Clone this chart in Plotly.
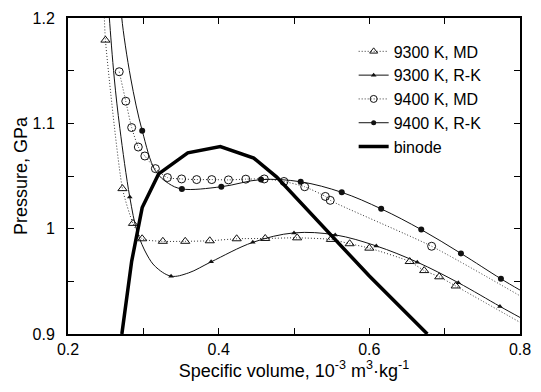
import plotly.graph_objects as go

# ---------------- data ----------------
# 9300 K, MD (open triangles, dotted line)
md9300_v = [0.2476, 0.2497, 0.2723, 0.2863, 0.2984, 0.3259, 0.3556, 0.3882, 0.4239, 0.4618,
            0.5042, 0.5490, 0.5739, 0.6000, 0.6536, 0.6728, 0.6928, 0.7146, 0.8200]
md9300_p = [1.215, 1.179, 1.038, 1.005, 0.9904, 0.988, 0.988, 0.9885, 0.9904, 0.9907,
            0.9913, 0.9898, 0.9857, 0.9815, 0.9688, 0.9602, 0.9543, 0.9456, 0.903]

# 9300 K, R-K curve (solid line) and its marked points
rk9300_curve_v = [0.2535, 0.2549, 0.2614, 0.2689, 0.2820, 0.2919, 0.3050, 0.3160, 0.3368, 0.3600,
                  0.3900, 0.4453, 0.5000, 0.5547, 0.6092, 0.6636, 0.7181, 0.7734, 0.8000]
rk9300_curve_p = [1.215, 1.200, 1.143, 1.095, 1.030, 0.997, 0.975, 0.964, 0.9549, 0.958,
                  0.9685, 0.987, 0.996, 0.9941, 0.9836, 0.9682, 0.9487, 0.9262, 0.9157]
rk9300_v = [0.2820, 0.3368, 0.3900, 0.4453, 0.5000, 0.5547, 0.6092, 0.6636, 0.7181, 0.7734]
rk9300_p = [1.030, 0.9549, 0.9685, 0.987, 0.996, 0.9941, 0.9836, 0.9682, 0.9487, 0.9262]

# 9400 K, MD (open circles, dotted line)
md9400_v = [0.2680, 0.2767, 0.2845, 0.2933, 0.3020, 0.3160, 0.3320, 0.3508, 0.3708, 0.3908,
            0.4130, 0.4360, 0.4605, 0.4867, 0.5142, 0.5416, 0.5481, 0.6827, 0.8200]
md9400_p = [1.149, 1.121, 1.096, 1.0775, 1.069, 1.057, 1.0485, 1.0472, 1.0466, 1.0466,
            1.0463, 1.047, 1.0472, 1.0448, 1.0398, 1.0306, 1.0269, 0.9833, 0.928]

# 9400 K, R-K curve (solid line) and its marked points
rk9400_curve_v = [0.2705, 0.2714, 0.2832, 0.2985, 0.3160, 0.3333, 0.3512, 0.4035, 0.4562, 0.5089,
                  0.5634, 0.6157, 0.6689, 0.7216, 0.7747, 0.8000]
rk9400_curve_p = [1.215, 1.200, 1.143, 1.093, 1.055, 1.043, 1.0377, 1.0398, 1.0466, 1.0445,
                  1.0345, 1.0188, 0.9991, 0.9765, 0.9524, 0.9417]
rk9400_v = [0.2985, 0.3512, 0.4035, 0.4562, 0.5089, 0.5634, 0.6157, 0.6689, 0.7216, 0.7747]
rk9400_p = [1.093, 1.0377, 1.0398, 1.0466, 1.0445, 1.0345, 1.0188, 0.9991, 0.9765, 0.9524]

# binode
binode_v = [0.2715, 0.2845, 0.2985, 0.3203, 0.3590, 0.4022, 0.4466, 0.4771, 0.6000, 0.6770]
binode_p = [0.900, 0.969, 1.020, 1.052, 1.072, 1.078, 1.067, 1.049, 0.955, 0.900]

x_ticks = [0.2, 0.4, 0.6, 0.8]
x_ticktext = ["0.2", "0.4", "0.6", "0.8"]
y_ticks = [0.9, 1.0, 1.1, 1.2]
y_ticktext = ["0.9", "1", "1.1", "1.2"]

# ---------------- figure ----------------
INK = "#111111"
FONT = "Liberation Sans, Arial, sans-serif"
DOTS = "1px,2px"

fig = go.Figure()

# MD 9300 dotted + open triangles
fig.add_trace(go.Scatter(x=md9300_v, y=md9300_p, mode="lines+markers", showlegend=False,
                         line=dict(color="#333333", width=1, dash=DOTS, shape="spline", smoothing=0.6),
                         marker=dict(symbol="triangle-up-open", size=8, color=INK, line=dict(width=1))))
# RK 9300 solid curve
fig.add_trace(go.Scatter(x=rk9300_curve_v, y=rk9300_curve_p, mode="lines", showlegend=False,
                         line=dict(color=INK, width=1, shape="spline", smoothing=1.0)))
fig.add_trace(go.Scatter(x=rk9300_v, y=rk9300_p, mode="markers", showlegend=False,
                         marker=dict(symbol="triangle-up", size=5, color=INK)))
# MD 9400 dotted + open circles
fig.add_trace(go.Scatter(x=md9400_v, y=md9400_p, mode="lines+markers", showlegend=False,
                         line=dict(color="#333333", width=1, dash=DOTS, shape="spline", smoothing=0.6),
                         marker=dict(symbol="circle-open", size=8, color=INK, line=dict(width=1))))
# RK 9400 solid curve
fig.add_trace(go.Scatter(x=rk9400_curve_v, y=rk9400_curve_p, mode="lines", showlegend=False,
                         line=dict(color=INK, width=1, shape="spline", smoothing=1.0)))
fig.add_trace(go.Scatter(x=rk9400_v, y=rk9400_p, mode="markers", showlegend=False,
                         marker=dict(symbol="circle", size=6, color=INK)))
# binode
fig.add_trace(go.Scatter(x=binode_v, y=binode_p, mode="lines", showlegend=False,
                         line=dict(color="black", width=3.5)))

# legend entries
fig.add_trace(go.Scatter(x=[None], y=[None], mode="lines+markers", name="9300 K, MD",
                         line=dict(color="#333333", width=1, dash=DOTS),
                         marker=dict(symbol="triangle-up-open", size=7, color=INK, line=dict(width=1))))
fig.add_trace(go.Scatter(x=[None], y=[None], mode="lines+markers", name="9300 K, R-K",
                         line=dict(color=INK, width=1),
                         marker=dict(symbol="triangle-up", size=5, color=INK)))
fig.add_trace(go.Scatter(x=[None], y=[None], mode="lines+markers", name="9400 K, MD",
                         line=dict(color="#333333", width=1, dash=DOTS),
                         marker=dict(symbol="circle-open", size=7, color=INK, line=dict(width=1))))
fig.add_trace(go.Scatter(x=[None], y=[None], mode="lines+markers", name="9400 K, R-K",
                         line=dict(color=INK, width=1),
                         marker=dict(symbol="circle", size=5, color=INK)))
fig.add_trace(go.Scatter(x=[None], y=[None], mode="lines", name="binode",
                         line=dict(color="black", width=3.5)))

axis_common = dict(showgrid=False, zeroline=False, showline=True, linecolor="black", linewidth=2,
                   mirror="ticks", ticks="inside", ticklen=6, tickwidth=1, tickcolor="black",
                   ticklabeloverflow="allow",
                   tickfont=dict(family=FONT, size=16, color="black"))

fig.update_xaxes(range=[0.2, 0.8], tickvals=x_ticks, ticktext=x_ticktext,
                 minor=dict(ticks="inside", dtick=0.1, tick0=0.2, ticklen=6, tickwidth=1,
                            tickcolor="black", showgrid=False),
                 title=dict(text="Specific volume, 10<sup>-3</sup> m<sup>3</sup>·kg<sup>-1</sup>",
                            font=dict(family=FONT, size=18, color="black"), standoff=2),
                 **axis_common)
fig.update_yaxes(range=[0.9, 1.2], tickvals=y_ticks, ticktext=y_ticktext,
                 minor=dict(ticks="inside", dtick=0.05, tick0=0.9, ticklen=6, tickwidth=1,
                            tickcolor="black", showgrid=False),
                 ticklabelstandoff=8,
                 title=dict(text="Pressure, GPa", font=dict(family=FONT, size=18, color="black"),
                            standoff=0),
                 **axis_common)

fig.update_layout(
    width=541, height=392,
    margin=dict(l=68, r=14, t=10, b=58),
    paper_bgcolor="white", plot_bgcolor="white",
    font=dict(family=FONT, color="black"),
    showlegend=True,
    legend=dict(x=0.632, y=0.948, xanchor="left", yanchor="top",
                bgcolor="rgba(0,0,0,0)", borderwidth=0,
                font=dict(family=FONT, size=16, color="black"),
                tracegroupgap=0, itemwidth=30),
)

# remove the page's default 8px body margin so the figure sits at the window origin
fig.write_html("out.html",
               config={"displayModeBar": False},
               post_script="document.body.style.margin='0';document.body.style.overflow='hidden';")
